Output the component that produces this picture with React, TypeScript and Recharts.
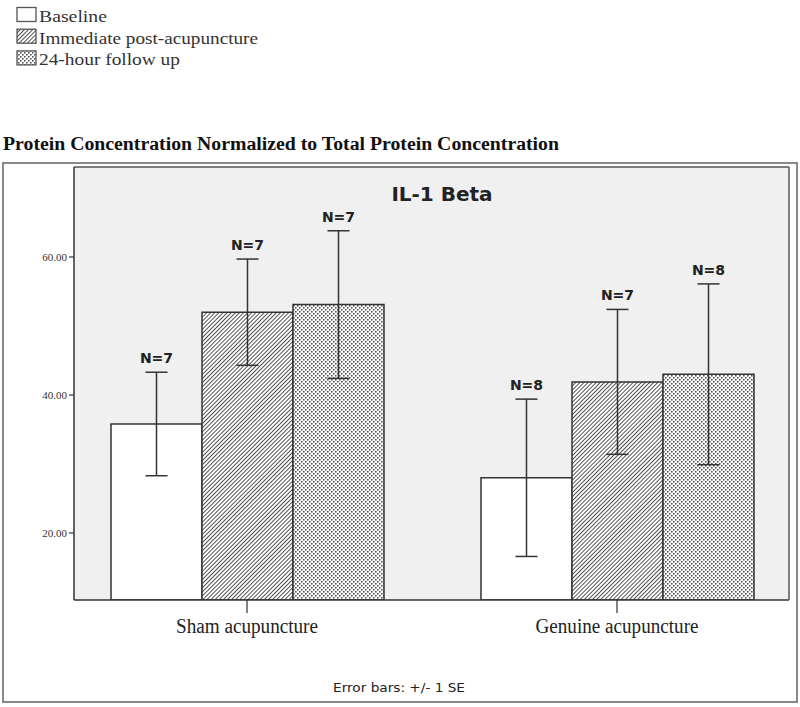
import { BarChart, Bar, XAxis, YAxis, CartesianGrid, ErrorBar, LabelList } from "recharts";

const groups = ["Sham acupuncture", "Genuine acupuncture"];
const baseline = [35.8, 28.0];
const immediate = [52.0, 41.9];
const followUp = [53.1, 43.0];
const baselineSe = [7.5, 11.4];
const immediateSe = [7.7, 10.5];
const followUpSe = [10.7, 13.1];
const baselineN = [7, 8];
const immediateN = [7, 7];
const followUpN = [7, 8];
const yTicks = [20, 40, 60];

const Y_MIN = 10.29;
const Y_MAX = 73.04;

const data = groups.map((g, i) => ({
    group: g,
    base: baseline[i],
    baseSe: baselineSe[i],
    baseN: `N=${baselineN[i]}`,
    imm: immediate[i],
    immSe: immediateSe[i],
    immN: `N=${immediateN[i]}`,
    fu: followUp[i],
    fuSe: followUpSe[i],
    fuN: `N=${followUpN[i]}`,
}));

const dark = "#333";

// N label sits above the top whisker of the error bar
const nLabel = (meanKey: string, seKey: string) => (props: any) => {
    const { x, y, width, height, value, index } = props;
    const row: any = data[index ?? 0];
    const mean = row[meanKey];
    const k = height / (mean - Y_MIN);
    const top = y - row[seKey] * k;
    return (
        <text
            x={x + width / 2}
            y={top - 9}
            textAnchor="middle"
            fontFamily="DejaVu Sans"
            fontWeight="bold"
            fontSize={14}
            fill="#222"
        >
            {value}
        </text>
    );
};

const XTick = (props: any) => {
    const { x, y, payload } = props;
    const len = payload.value === "Sham acupuncture" ? 142 : 163;
    return (
        <text
            x={x}
            y={y}
            dy={18}
            textAnchor="middle"
            fontFamily="Liberation Serif"
            fontSize={20}
            fill="#222"
            textLength={len}
            lengthAdjust="spacingAndGlyphs"
        >
            {payload.value}
        </text>
    );
};

const legendItems = [
    { label: "Baseline", fill: "#fff", len: 68 },
    { label: "Immediate post-acupuncture", fill: "url(#hatchL)", len: 219 },
    { label: "24-hour follow up", fill: "url(#dotsL)", len: 141 },
];

const Patterns = ({ suffix }: { suffix: string }) => (
    <defs>
        <pattern id={`hatch${suffix}`} width="2.9" height="2.9" patternUnits="userSpaceOnUse" patternTransform="rotate(45)">
            <rect width="2.9" height="2.9" fill="#fff" />
            <line x1="0" y1="0" x2="0" y2="2.9" stroke="#1a1a1a" strokeWidth="1.5" />
        </pattern>
        <pattern id={`dots${suffix}`} width="4" height="4" patternUnits="userSpaceOnUse">
            <rect width="4" height="4" fill="#fff" />
            <rect x="0" y="0" width="1.6" height="1.6" fill="#555" />
            <rect x="2" y="2" width="1.6" height="1.6" fill="#555" />
        </pattern>
    </defs>
);

export default function App() {
    return (
        <div style={{ position: "absolute", left: 0, top: 0, width: 800, height: 707, background: "#fff" }}>
            <div style={{ position: "absolute", left: 3, top: 163 }}>
                <BarChart
                    width={794}
                    height={539}
                    data={data}
                    margin={{ top: 3, right: 7, bottom: 0, left: 0 }}
                    barCategoryGap={49}
                    barGap={0}
                >
                    <Patterns suffix="" />
                    <CartesianGrid horizontal={false} vertical={false} fill="#f0f0f0" fillOpacity={1} />
                    <XAxis
                        dataKey="group"
                        padding={{ left: -12, right: -13 }}
                        height={102}
                        tickSize={13}
                        tick={<XTick />}
                        axisLine={{ stroke: dark, strokeWidth: 1.5 }}
                        tickLine={{ stroke: dark, strokeWidth: 1.2 }}
                    />
                    <XAxis
                        xAxisId="top"
                        orientation="top"
                        dataKey="group"
                        height={1}
                        tick={false}
                        tickLine={false}
                        axisLine={{ stroke: "#555", strokeWidth: 1.5 }}
                    />
                    <YAxis
                        domain={[Y_MIN, Y_MAX]}
                        allowDataOverflow
                        ticks={yTicks}
                        tickFormatter={(v: number) => v.toFixed(2)}
                        width={71}
                        tickSize={5}
                        tick={{ fontFamily: "Liberation Serif", fontSize: 11, fill: dark }}
                        axisLine={{ stroke: dark, strokeWidth: 1.5 }}
                        tickLine={{ stroke: dark, strokeWidth: 1.2 }}
                    />
                    <YAxis
                        yAxisId="right"
                        orientation="right"
                        domain={[Y_MIN, Y_MAX]}
                        allowDataOverflow
                        width={1}
                        tick={false}
                        tickLine={false}
                        axisLine={{ stroke: "#555", strokeWidth: 1.5 }}
                    />
                    <Bar dataKey="base" fill="#fff" stroke={dark} strokeWidth={1.5} isAnimationActive={false}>
                        <ErrorBar dataKey="baseSe" width={11} stroke={dark} strokeWidth={1.5} />
                        <LabelList dataKey="baseN" content={nLabel("base", "baseSe")} />
                    </Bar>
                    <Bar dataKey="imm" fill="url(#hatch)" stroke={dark} strokeWidth={1.5} isAnimationActive={false}>
                        <ErrorBar dataKey="immSe" width={11} stroke={dark} strokeWidth={1.5} />
                        <LabelList dataKey="immN" content={nLabel("imm", "immSe")} />
                    </Bar>
                    <Bar dataKey="fu" fill="url(#dots)" stroke={dark} strokeWidth={1.5} isAnimationActive={false}>
                        <ErrorBar dataKey="fuSe" width={11} stroke={dark} strokeWidth={1.5} />
                        <LabelList dataKey="fuN" content={nLabel("fu", "fuSe")} />
                    </Bar>
                </BarChart>
            </div>
            <svg
                width={800}
                height={707}
                style={{ position: "absolute", left: 0, top: 0, pointerEvents: "none" }}
            >
                <Patterns suffix="L" />
                {legendItems.map((item, i) => (
                    <g key={item.label}>
                        <rect x={17} y={7.5 + i * 21.7} width={19} height={14} fill={item.fill} stroke="#555" strokeWidth={1.3} />
                        <text
                            x={39}
                            y={22 + i * 21.7}
                            fontFamily="Liberation Serif"
                            fontSize={17}
                            fill="#333"
                            textLength={item.len}
                            lengthAdjust="spacingAndGlyphs"
                        >
                            {item.label}
                        </text>
                    </g>
                ))}
                <text
                    x={3}
                    y={150}
                    fontFamily="Liberation Serif"
                    fontWeight="bold"
                    fontSize={18}
                    fill="#111"
                    textLength={556}
                    lengthAdjust="spacingAndGlyphs"
                >
                    Protein Concentration Normalized to Total Protein Concentration
                </text>
                <rect x={3} y={163} width={794} height={539} fill="none" stroke="#888" strokeWidth={2} />
                <text x={442} y={201} textAnchor="middle" fontFamily="DejaVu Sans" fontWeight="bold" fontSize={20} fill="#222">
                    IL-1 Beta
                </text>
                <text
                    x={399}
                    y={692}
                    textAnchor="middle"
                    fontFamily="DejaVu Sans"
                    fontSize={13}
                    fill="#222"
                    textLength={132}
                    lengthAdjust="spacingAndGlyphs"
                >
                    Error bars: +/- 1 SE
                </text>
            </svg>
        </div>
    );
}
